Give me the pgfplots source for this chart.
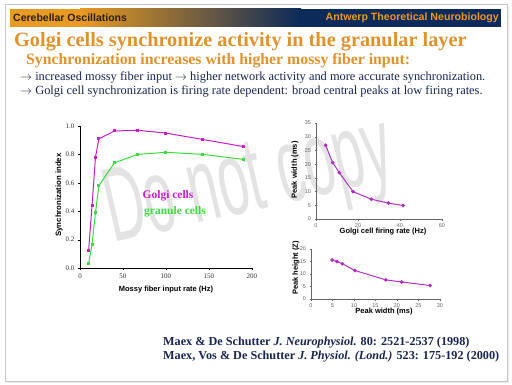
\documentclass[border=0pt]{standalone}
\usepackage{pgfplots}
\pgfplotsset{compat=1.18}
\usepackage{fontspec}
\setmainfont{Liberation Serif}
\setsansfont{Liberation Sans}
\definecolor{hdrorange}{HTML}{E89A22}
\definecolor{hdrnavy}{HTML}{0C2A5A}
\definecolor{titleor}{HTML}{E0922C}
\definecolor{navytext}{HTML}{1A2550}
\definecolor{golgi}{HTML}{C81EC8}
\definecolor{granule}{HTML}{3CDC3C}
\definecolor{golgitwo}{HTML}{B030C0}
\definecolor{hdrdark}{HTML}{2B1E0A}
\begin{document}
\begin{tikzpicture}[x=1pt,y=1pt]
\fill[white] (0,0) rectangle (512,384);
\fill[gray!15] (7,1) rectangle (509,378);
\filldraw[fill=white,draw=gray!45,line width=0.6pt] (5,3) rectangle (507,380);
\coordinate (MA) at (80,116);
\coordinate (PW) at (316,165);
\coordinate (PH) at (311,85);
% header bar
\fill[hdrorange] (10,357) rectangle (81,375);
\shade[left color=hdrorange,right color=hdrnavy] (80,357) rectangle (301,375);
\fill[hdrnavy] (300,357) rectangle (501,375);
\node[anchor=west,inner sep=0pt,text=hdrdark,font=\sffamily\bfseries\fontsize{10.5}{12}\selectfont] at (13,366) {Cerebellar Oscillations};
\node[anchor=east,inner sep=0pt,text=hdrorange,font=\sffamily\bfseries\fontsize{10.6}{12}\selectfont] at (499,366) {Antwerp Theoretical Neurobiology};
% titles
\node[anchor=west,inner sep=0pt,text=titleor,font=\bfseries\fontsize{20.3}{23}\selectfont] at (14,342) {Golgi cells synchronize activity in the granular layer};
\node[anchor=west,inner sep=0pt,text=titleor,font=\bfseries\fontsize{15.8}{18}\selectfont] at (26,323) {Synchronization increases with higher mossy fiber input:};
\node[anchor=west,inner sep=0pt,text=navytext,font=\fontsize{12.4}{14}\selectfont] at (20,307) {$\rightarrow$ increased mossy fiber input $\rightarrow$ higher network activity and more accurate synchronization.};
\node[anchor=west,inner sep=0pt,text=navytext,font=\fontsize{12.4}{14}\selectfont] at (20,293) {$\rightarrow$ Golgi cell synchronization is firing rate dependent: broad central peaks at low firing rates.};
% watermark
\node[anchor=base west,inner sep=0pt,rotate=13,xscale=0.52,text=gray!22,font=\sffamily\fontsize{105}{105}\selectfont] at (113,141) {Do not copy};
% main axis
\begin{axis}[at={(MA)},anchor=south west,scale only axis,width=172pt,height=142pt,
  xmin=0,xmax=200,ymin=0,ymax=1,axis lines*=left,clip=false,
  xtick={0,50,100,150,200},ytick={0,0.2,0.4,0.6,0.8,1.0},
  yticklabel style={/pgf/number format/.cd,fixed,fixed zerofill,precision=1},
  /pgf/number format/assume math mode=true,
  ticklabel style={font=\fontsize{7}{8}\selectfont,text=black!80},
  tick align=outside,major tick length=2pt,tick style={black},
  axis line style={black,line width=0.5pt}]
\addplot[golgi,line width=1pt,mark=square*,mark size=1pt] coordinates {(10,0.12)(14,0.44)(18,0.78)(22,0.91)(40,0.965)(67,0.97)(100,0.95)(143,0.905)(190,0.855)};
\addplot[granule,line width=1pt,mark=square*,mark size=1pt] coordinates {(10,0.03)(14,0.165)(18,0.39)(22,0.58)(40,0.74)(67,0.80)(100,0.815)(143,0.80)(190,0.765)};
\end{axis}
\node[rotate=90,font=\sffamily\bfseries\fontsize{7.8}{9}\selectfont] at (59,189) {Synchronization index};
\node[font=\sffamily\bfseries\fontsize{7.5}{9}\selectfont] at (166,94) {Mossy fiber input rate (Hz)};
\node[text=golgi,font=\bfseries\fontsize{11.5}{12}\selectfont] at (168,188) {Golgi cells};
\node[text=granule,font=\bfseries\fontsize{11.5}{12}\selectfont] at (175,172) {granule cells};
% peak width axis
\begin{axis}[at={(PW)},anchor=south west,scale only axis,width=126pt,height=96pt,
  xmin=0,xmax=60,ymin=0,ymax=35,axis lines*=left,clip=false,
  xtick={0,20,40,60},ytick={0,5,10,15,20,25,30,35},
  /pgf/number format/assume math mode=true,
  ticklabel style={font=\sffamily\fontsize{5.5}{6}\selectfont,text=black!60},
  tick align=outside,major tick length=1.5pt,tick style={black!60},
  axis line style={black!60,line width=0.5pt}]
\addplot[golgitwo,line width=1pt,mark=*,mark size=1.3pt] coordinates {(4.6,26.9)(7.9,20.6)(11.1,16.9)(17.6,10.0)(26.4,7.2)(34.5,5.8)(41.5,4.9)};
\end{axis}
\node[rotate=90,font=\sffamily\bfseries\fontsize{7.5}{9}\selectfont] at (295,214) {Peak width (ms)};
\node[font=\sffamily\bfseries\fontsize{7.5}{9}\selectfont] at (383,152) {Golgi cell firing rate (Hz)};
% peak height axis
\begin{axis}[at={(PH)},anchor=south west,scale only axis,width=129pt,height=50pt,
  xmin=0,xmax=30,ymin=0,ymax=20,axis lines*=left,clip=false,
  xtick={0,5,10,15,20,25,30},ytick={0,5,10,15,20},
  /pgf/number format/assume math mode=true,
  ticklabel style={font=\sffamily\fontsize{5.5}{6}\selectfont,text=black!60},
  tick align=outside,major tick length=1.5pt,tick style={black!60},
  axis line style={black!60,line width=0.5pt}]
\addplot[golgitwo,line width=1pt,mark=*,mark size=1.3pt] coordinates {(4.9,15.6)(6.0,15.0)(7.3,14.1)(10.2,11.4)(17.4,7.65)(21.1,6.8)(27.7,5.4)};
\end{axis}
\node[rotate=90,font=\sffamily\bfseries\fontsize{7.5}{9}\selectfont] at (296,116) {Peak height (Z)};
\node[font=\sffamily\bfseries\fontsize{7.5}{9}\selectfont] at (384,72) {Peak width (ms)};
% references
\node[anchor=west,inner sep=0pt,text=navytext,font=\bfseries\fontsize{12.2}{14}\selectfont] at (163,41) {Maex \& De Schutter \textit{J. Neurophysiol.} 80: 2521-2537 (1998)};
\node[anchor=west,inner sep=0pt,text=navytext,font=\bfseries\fontsize{12.2}{14}\selectfont] at (163,27) {Maex, Vos \& De Schutter \textit{J. Physiol. (Lond.)} 523: 175-192 (2000)};
\end{tikzpicture}
\end{document}
